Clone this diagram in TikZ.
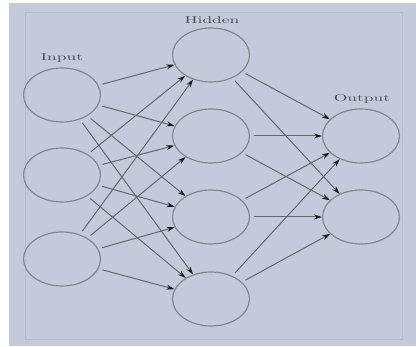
\documentclass[tikz,border=0pt]{standalone}
\usetikzlibrary{arrows.meta,shapes.geometric}
\definecolor{bgc}{RGB}{196,202,217}
\definecolor{framec}{RGB}{184,190,206}
\definecolor{nodec}{RGB}{132,135,145}
\definecolor{edgec}{RGB}{100,103,112}
\definecolor{tipc}{RGB}{25,27,35}
\definecolor{textc}{RGB}{75,78,88}
\tikzset{
  neuron/.style={ellipse,draw=nodec,line width=1.2pt,minimum width=77pt,minimum height=54pt,inner sep=0pt},
  conn/.style={draw=edgec,line width=1pt,shorten <=4pt,-{Stealth[length=8pt,width=5pt,color=tipc]}},
  lbl/.style={text=textc,font=\fontsize{10}{12}\selectfont,inner sep=0pt}
}
\newcommand{\wlbl}[1]{\scalebox{1.75}[1]{#1}}
\begin{document}
\begin{tikzpicture}[x=1pt,y=-1pt]
\useasboundingbox (0,0) rectangle (416,347);
\fill[white] (0,0) rectangle (416,347);
\fill[bgc] (9,3) rectangle (416,346);
\draw[framec,line width=1pt] (25,13) rectangle (402,340);
% nodes
\node[neuron] (i1) at (62,95) {};
\node[neuron] (i2) at (62,175) {};
\node[neuron] (i3) at (62,259) {};
\node[neuron] (h1) at (211,55) {};
\node[neuron] (h2) at (211,136) {};
\node[neuron] (h3) at (211,217) {};
\node[neuron] (h4) at (211,299) {};
\node[neuron] (o1) at (361,136) {};
\node[neuron] (o2) at (361,217) {};
% labels
\node[lbl] (li) at (62,58) {\wlbl{Input}};
\node[lbl] (lh) at (212,20) {\wlbl{Hidden}};
\node[lbl] (lo) at (362,99) {\wlbl{Output}};
% connections
\foreach \s in {i1,i2,i3}{
  \foreach \t in {h1,h2,h3,h4}{
    \draw[conn] (\s) -- (\t);
  }
}
\foreach \s in {h1,h2,h3,h4}{
  \foreach \t in {o1,o2}{
    \draw[conn] (\s) -- (\t);
  }
}
\end{tikzpicture}
\end{document}
